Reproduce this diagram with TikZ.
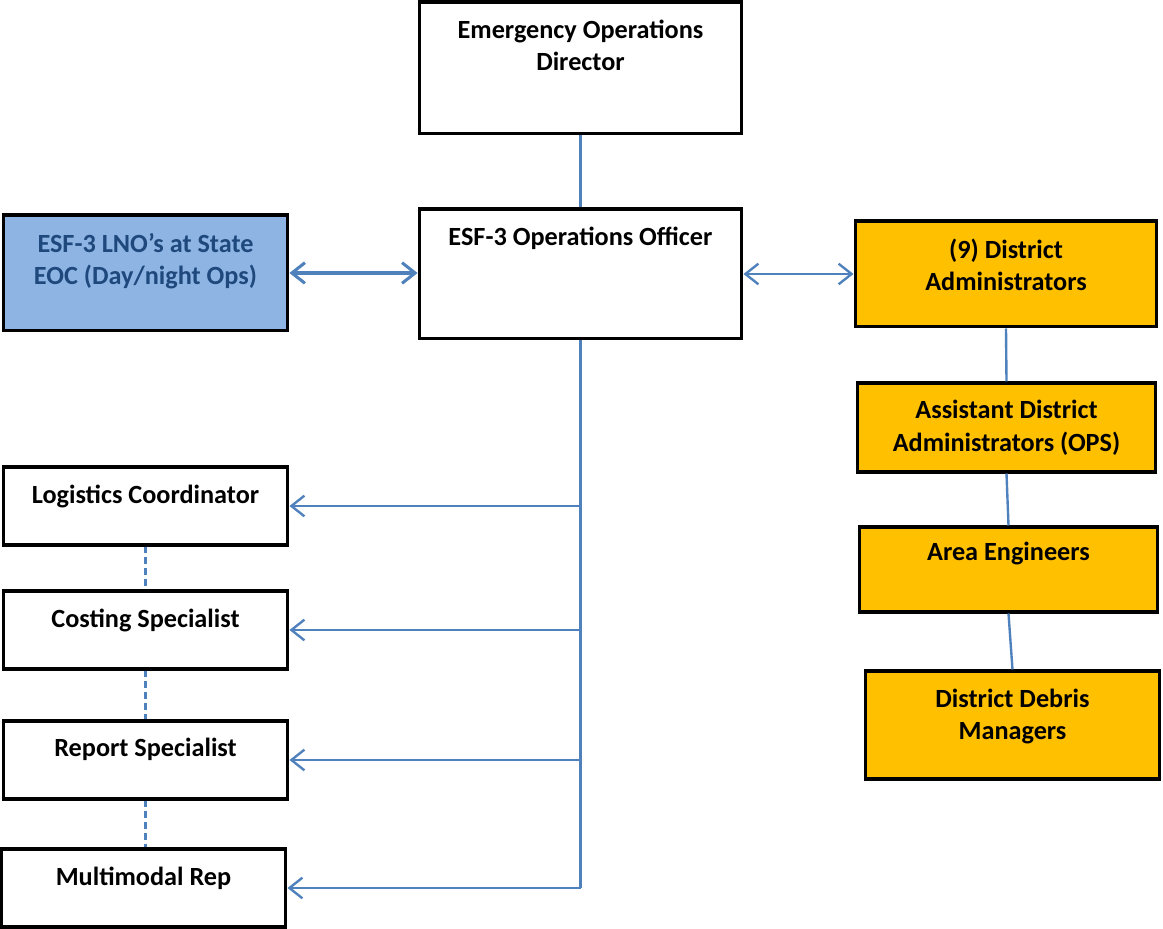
\documentclass[tikz,border=0pt]{standalone}
\usepackage{fontspec}
\setmainfont{Carlito}
\usetikzlibrary{positioning,arrows.meta}

\definecolor{linkblue}{HTML}{4F81BD}
\definecolor{lnofill}{HTML}{8EB4E3}
\definecolor{lnotext}{HTML}{1F497D}
\definecolor{distfill}{HTML}{FFC000}
\newcommand\pxu{0.4609pt}

\tikzset{
  box/.style={draw=black, line width=1.4pt, fill=white, inner sep=0pt},
  title/.style={font=\fontsize{12.1}{14.8}\selectfont\bfseries, align=center, inner sep=0pt},
  link/.style={draw=linkblue, line width=1.1pt},
  dashlink/.style={draw=linkblue, line width=1.1pt, dash pattern=on 3pt off 2pt},
  tip/.style={-{Straight Barb[length=6pt,width=9.5pt]}},
  twotip/.style={{Straight Barb[length=6pt,width=9.5pt]}-{Straight Barb[length=6pt,width=9.5pt]}},
}

\begin{document}
\begin{tikzpicture}[x=0.0162cm, y=-0.0162cm]
  \useasboundingbox (0,0) rectangle (1163,929);

  % centre column
  \node[box, minimum width=323*\pxu, minimum height=132*\pxu] (dir) at (580.5,68) {};
  \node[title, below=8.6pt of dir.north] (dirtxt) {Emergency Operations\\Director};
  \node[box, minimum width=323*\pxu, minimum height=130*\pxu] (off) at (580.5,274) {};
  \node[title, below=8.8pt of off.north] (offtxt) {ESF-3 Operations Officer};

  % state liaison
  \node[box, fill=lnofill, minimum width=285*\pxu, minimum height=116*\pxu] (lno) at (145.5,273) {};
  \node[title, text=lnotext, below=8.8pt of lno.north] (lnotxt) {ESF-3 LNO’s at State\\EOC (Day/night Ops)};

  % district column
  \node[box, fill=distfill, minimum width=302*\pxu, minimum height=106*\pxu] (da) at (1006,274) {};
  \node[title, below=8.6pt of da.north] (datxt) {(9) District\\Administrators};
  \node[box, fill=distfill, minimum width=299*\pxu, minimum height=89*\pxu] (ada) at (1006.5,427.5) {};
  \node[title, below=8.6pt of ada.north] (adatxt) {Assistant District\\Administrators (OPS)};
  \node[box, fill=distfill, minimum width=299*\pxu, minimum height=85*\pxu] (ae) at (1008.5,569.5) {};
  \node[title, below=7.3pt of ae.north] (aetxt) {Area Engineers};
  \node[box, fill=distfill, minimum width=295*\pxu, minimum height=108*\pxu] (ddm) at (1012.5,725) {};
  \node[title, below=8.6pt of ddm.north] (ddmtxt) {District Debris\\Managers};

  % support staff
  \node[box, minimum width=285*\pxu, minimum height=78*\pxu] (log) at (145.5,506) {};
  \node[title, below=8.6pt of log.north] (logtxt) {Logistics Coordinator};
  \node[box, minimum width=285*\pxu, minimum height=78*\pxu] (cost) at (145.5,630) {};
  \node[title, below=8.6pt of cost.north] (costtxt) {Costing Specialist};
  \node[box, minimum width=285*\pxu, minimum height=78*\pxu] (rep) at (145.5,760) {};
  \node[title, below=8.6pt of rep.north] (reptxt) {Report Specialist};
  \node[box, minimum width=285*\pxu, minimum height=78*\pxu] (mm) at (143.5,888) {};
  \node[title, below=8.6pt of mm.north] (mmtxt) {Multimodal Rep};

  % connectors
  \draw[link] (dir.south) -- (off.north);
  \draw[link, twotip, line width=1.4pt] (lno.east) -- (lno.east -| off.west);
  \draw[link, twotip] (off.east) -- (off.east -| da.west);
  \draw[link] (da.south) -- (ada.north);
  \draw[link] (ada.south) -- (ae.north);
  \draw[link] (ae.south) -- (ddm.north);

  \coordinate (trunkend) at (off.south |- mm.east);
  \draw[link] (off.south) -- (trunkend);
  \draw[link, tip] (off.south |- log.east) -- (log.east);
  \draw[link, tip] (off.south |- cost.east) -- (cost.east);
  \draw[link, tip] (off.south |- rep.east) -- (rep.east);
  \draw[link, tip] (trunkend) -- (mm.east);

  \draw[dashlink] (log.south) -- (cost.north);
  \draw[dashlink] (cost.south) -- (rep.north);
  \draw[dashlink] (rep.south) -- (rep.south |- mm.north);
\end{tikzpicture}
\end{document}
